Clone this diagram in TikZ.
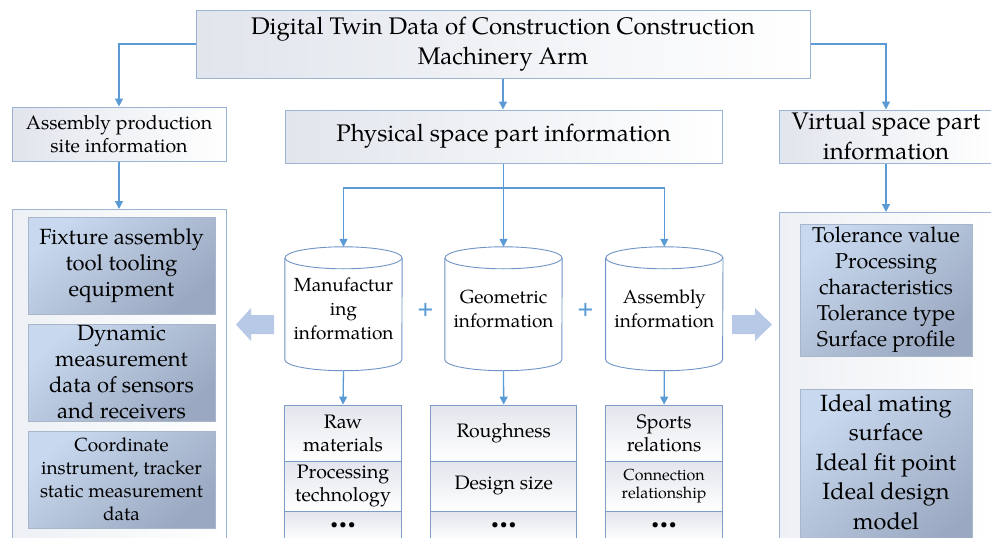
\documentclass[tikz,border=0pt]{standalone}
\usepackage{fontspec}
\setmainfont{TeX Gyre Pagella}
\usetikzlibrary{arrows.meta,calc}
\definecolor{connblue}{HTML}{5B9BD5}
\definecolor{boxline}{HTML}{9BB3D4}
\definecolor{boxgray}{HTML}{E1E5EC}
\definecolor{outergray}{HTML}{EDF0F4}
\definecolor{cylline}{HTML}{6F93C4}
\definecolor{cellline}{HTML}{7D9CC8}
\definecolor{cellgray}{HTML}{E2E5EC}
\definecolor{blueA}{HTML}{C8D8EE}
\definecolor{blueB}{HTML}{9AA9C1}
\definecolor{innerline}{HTML}{A9B6C9}
\definecolor{bigarrow}{HTML}{B7C9E6}
\newcommand\fsz[2]{\fontsize{#1}{#2}\selectfont}
\newcommand\threedots{{\fsz{13}{13}\textbullet\hspace{1.5pt}\textbullet\hspace{1.5pt}\textbullet}}
\tikzset{
  conn/.style={draw=connblue, line width=1.3pt, -{Triangle[length=8pt,width=8pt]}},
  plainconn/.style={draw=connblue, line width=1.3pt},
  hbox/.style={draw=boxline, line width=1pt, left color=boxgray, right color=white, inner sep=0pt, align=center},
  outerbox/.style={draw=boxline, line width=1pt, left color=outergray, right color=white, inner sep=0pt},
  bluebox/.style={draw=innerline, line width=0.6pt, top color=blueA, bottom color=blueB, shading angle=40, inner sep=0pt, align=center},
  cylnode/.style={minimum width=117pt, minimum height=123.5pt, inner sep=0pt, align=center, font=\fsz{19}{24}},
  cylline/.style={draw=cylline, line width=0.9pt},
  cell/.style={draw=cellline, line width=0.8pt, top color=cellgray, bottom color=white, inner sep=0pt, align=center, font=\fsz{19.5}{23}},
  plus/.style={text=connblue, font=\fsz{22}{22}\bfseries, inner sep=0pt},
  bigarr/.style={fill=bigarrow}
}
\newcommand\cylshape[1]{%
  \draw[cylline] ($(#1.north west)+(0,11)$) -- ($(#1.south west)+(0,-11)$)
     arc[start angle=180, end angle=0, x radius=58.5, y radius=11]
     -- ($(#1.north east)+(0,11)$);
  \draw[cylline] ($(#1.north)+(0,11)$) ellipse[x radius=58.5, y radius=11];
}
\begin{document}
\begin{tikzpicture}[x=1pt,y=-1pt]
\path[use as bounding box] (0,0) rectangle (991,538);
\clip (0,0) rectangle (991,538);

% top
\node[hbox, minimum width=614pt, minimum height=68pt, font=\fsz{24}{30}] (top) at (503,44)
  {Digital Twin Data of Construction Construction\\Machinery Arm};

% left branch
\node[hbox, minimum width=214pt, minimum height=54pt, font=\fsz{19.5}{23}] (asm) at (119,134)
  {Assembly production\\site information};
\node[outerbox, minimum width=214pt, minimum height=360pt, anchor=north] (louter) at (119,209) {};
\node[bluebox, minimum width=187pt, minimum height=97pt, font=\fsz{22}{26}] (l1) at (121.5,265.5)
  {Fixture assembly\\tool tooling\\equipment};
\node[bluebox, minimum width=187pt, minimum height=97pt, font=\fsz{22}{26}] (l2) at (121.5,372.5)
  {Dynamic\\measurement\\data of sensors\\and receivers};
\node[bluebox, minimum width=187pt, minimum height=97pt, font=\fsz{19}{23}] (l3) at (121.5,479.5)
  {Coordinate\\instrument, tracker\\static measurement\\data};

% middle
\node[hbox, minimum width=437pt, minimum height=53pt, font=\fsz{24}{30}] (phys) at (503.5,136.5)
  {Physical space part information};

\node[cylnode] (cylA) at (343.5,308.75) {Manufactur\\ing\\information};
\node[cylnode] (cylB) at (503.5,308.75) {Geometric\\information};
\node[cylnode] (cylC) at (664.3,308.75) {Assembly\\information};
\cylshape{cylA}
\cylshape{cylB}
\cylshape{cylC}

\node[plus] (plus1) at (425.4,309.6) {+};
\node[plus] (plus2) at (585.4,309.6) {+};

% lists
\node[cell, minimum width=117.4pt, minimum height=56pt] (mA1) at (343,433) {Raw\\materials};
\node[cell, minimum width=117.4pt, minimum height=50pt] (mA2) at (343,486) {Processing\\technology};
\node[cell, minimum width=117.4pt, minimum height=30pt] (mA3) at (343,526) {\threedots};
\node[cell, minimum width=146pt, minimum height=56pt] (mB1) at (503.7,433) {Roughness};
\node[cell, minimum width=146pt, minimum height=50pt] (mB2) at (503.7,486) {Design size};
\node[cell, minimum width=146pt, minimum height=30pt] (mB3) at (503.7,526) {\threedots};
\node[cell, minimum width=117.2pt, minimum height=56pt] (mC1) at (664.1,433) {Sports\\relations};
\node[cell, minimum width=117.2pt, minimum height=50pt, font=\fsz{16}{18.5}] (mC2) at (664.1,486) {Connection\\relationship};
\node[cell, minimum width=117.2pt, minimum height=30pt] (mC3) at (664.1,526) {\threedots};

% right branch
\node[hbox, minimum width=214pt, minimum height=53pt, font=\fsz{24}{30}] (virt) at (886,136.5)
  {Virtual space part\\information};
\node[outerbox, minimum width=214pt, minimum height=360pt, anchor=north] (router) at (886,212) {};
\node[bluebox, minimum width=172pt, minimum height=132pt, font=\fsz{21.5}{26}] (r1) at (886,290)
  {Tolerance value\\Processing\\characteristics\\Tolerance type\\Surface profile};
\node[bluebox, minimum width=172pt, minimum height=170pt, anchor=north] (r2) at (886,389) {};
\node[font=\fsz{23.5}{29.5}, align=center, inner sep=0pt] (r2t) at (886,462)
  {Ideal mating\\surface\\Ideal fit point\\Ideal design\\model};

% block arrows
\fill[bigarr] (236,324.6) -- (251,308) -- (251,315) -- (274,315) -- (274,334) -- (251,334) -- (251,341) -- cycle;
\fill[bigarr] (772,324.6) -- (755,308) -- (755,315) -- (732,315) -- (732,334) -- (755,334) -- (755,341) -- cycle;

% connectors
\draw[conn] (top.west) -| (asm.north);
\draw[conn] (top.east) -| (virt.north);
\draw[conn] (top.south) -- (top.south |- phys.north);
\draw[conn] (asm.south) -- (louter.north);
\draw[conn] (virt.south) -- (router.north);
\coordinate (split) at (503.5,188);
\draw[conn] (phys.south) -- (cylB.north);
\draw[conn] (split) -| (cylA.north);
\draw[conn] (split) -| (cylC.north);
\draw[conn] (cylA.south) -- (mA1.north);
\draw[conn] (cylB.south) -- (mB1.north);
\draw[conn] (cylC.south) -- (mC1.north);
\end{tikzpicture}
\end{document}
